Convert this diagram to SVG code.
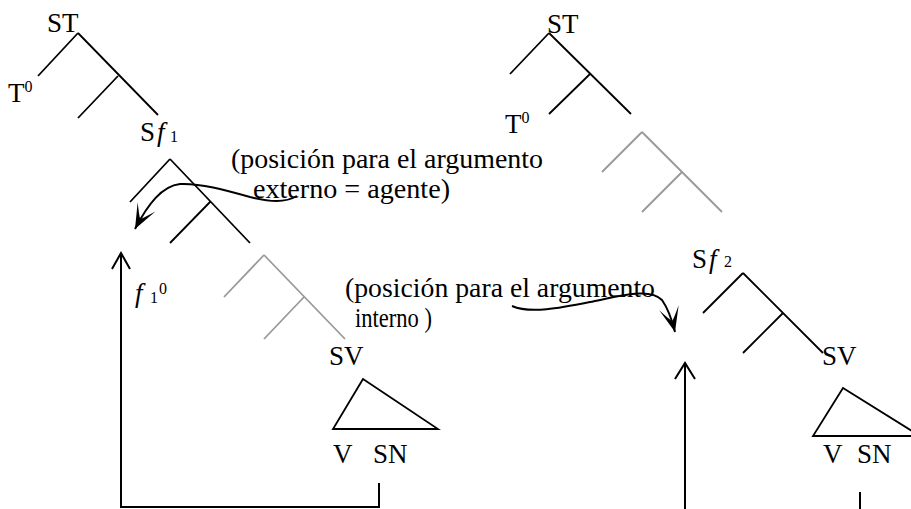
<svg xmlns="http://www.w3.org/2000/svg" width="911" height="509" viewBox="0 0 911 509">
<style>
text{font-family:'Liberation Serif','Times New Roman',serif;font-size:27px;fill:#000}
.it{font-style:italic}
.sm{font-size:16px}
.br{stroke:#000;stroke-width:1.8;fill:none;stroke-linecap:butt}
.gr{stroke:#999;stroke-width:1.8;fill:none}
.ar{stroke:#000;stroke-width:2;fill:none}
.cv{stroke:#000;stroke-width:2;fill:none}
</style>
<defs>
<marker id="hd" markerUnits="userSpaceOnUse" markerWidth="30" markerHeight="30" viewBox="-22 -10 24 20" refX="0" refY="0" orient="auto">
<path d="M0,0 L-20,-8 Q-11,-2 -9,0 Q-11,2 -20,8 Z" fill="#000"/>
</marker>
</defs>

<g id="connectors">
<path class="br" d="M78,33 L38,76 M78,33 L158,115 M118,76 L78,118"/>
<path class="br" d="M170,159 L130,202 M170,159 L250,243 M210,202 L170,243"/>
<path class="gr" d="M264,255 L224,297 M264,255 L345,339 M304,297 L264,339"/>
<path class="br" d="M363,379 L333,429 L438,429 Z"/>
<path class="br" d="M549,33 L510,74 M549,33 L631,114 M590,74 L549,114"/>
<path class="gr" d="M642,132 L602,172 M642,132 L722,212 M682,172 L642,212"/>
<path class="br" d="M743,273 L703,313 M743,273 L823,353 M783,313 L743,353"/>
<path class="br" d="M843,388 L813,436 L920,436 Z"/>
<path class="ar" d="M379,483 L379,507 L121,507 L121,253 M112,269 L121,253 L130,269"/>
<path class="ar" d="M685,509 L685,363 M675,379 L685,363 L695,379"/>
<path class="ar" d="M860,492 L860,509"/>
<path class="cv" marker-end="url(#hd)" d="M297,196 C285,203 270,202 250,197 C225,190 200,183 180,184 C162,186 148,204 135,229"/>
<path class="cv" marker-end="url(#hd)" d="M512,306 C530,314 560,308 590,302 C625,295 650,288 662,300 C669,310 672,320 675,332"/>
</g>

<g id="n-st-left"><text x="47" y="32">ST</text></g>
<g id="n-t0-left"><text x="8" y="102">T<tspan class="sm" dy="-10">0</tspan></text></g>
<g id="n-sf1"><text x="140" y="141">S<tspan class="it" x="157">f</tspan><tspan class="sm" x="170" dy="1">1</tspan></text></g>
<g id="n-f10"><text x="135" y="302"><tspan class="it">f</tspan><tspan class="sm" x="150" dy="1">1</tspan><tspan class="sm" x="159" dy="-9">0</tspan></text></g>
<g id="n-sv-left"><text x="329" y="365">SV</text></g>
<g id="n-v-left"><text x="333" y="463">V</text></g>
<g id="n-sn-left"><text x="373" y="463">SN</text></g>
<g id="lbl-externo">
<text x="231" y="168" textLength="312" lengthAdjust="spacingAndGlyphs">(posición para el argumento</text>
<text x="253" y="198" textLength="197" lengthAdjust="spacingAndGlyphs">externo = agente)</text>
</g>
<g id="lbl-interno">
<text x="345" y="297" textLength="310" lengthAdjust="spacingAndGlyphs">(posición para el argumento</text>
<text x="355" y="327" textLength="77" lengthAdjust="spacingAndGlyphs">interno )</text>
</g>
<g id="n-st-right"><text x="547" y="33">ST</text></g>
<g id="n-t0-right"><text x="505" y="133">T<tspan class="sm" dy="-10">0</tspan></text></g>
<g id="n-sf2"><text x="692" y="268">S<tspan class="it" x="709">f</tspan><tspan class="sm" x="724" dy="-1">2</tspan></text></g>
<g id="n-sv-right"><text x="822" y="365">SV</text></g>
<g id="n-v-right"><text x="823" y="463">V</text></g>
<g id="n-sn-right"><text x="857" y="463">SN</text></g>
</svg>
